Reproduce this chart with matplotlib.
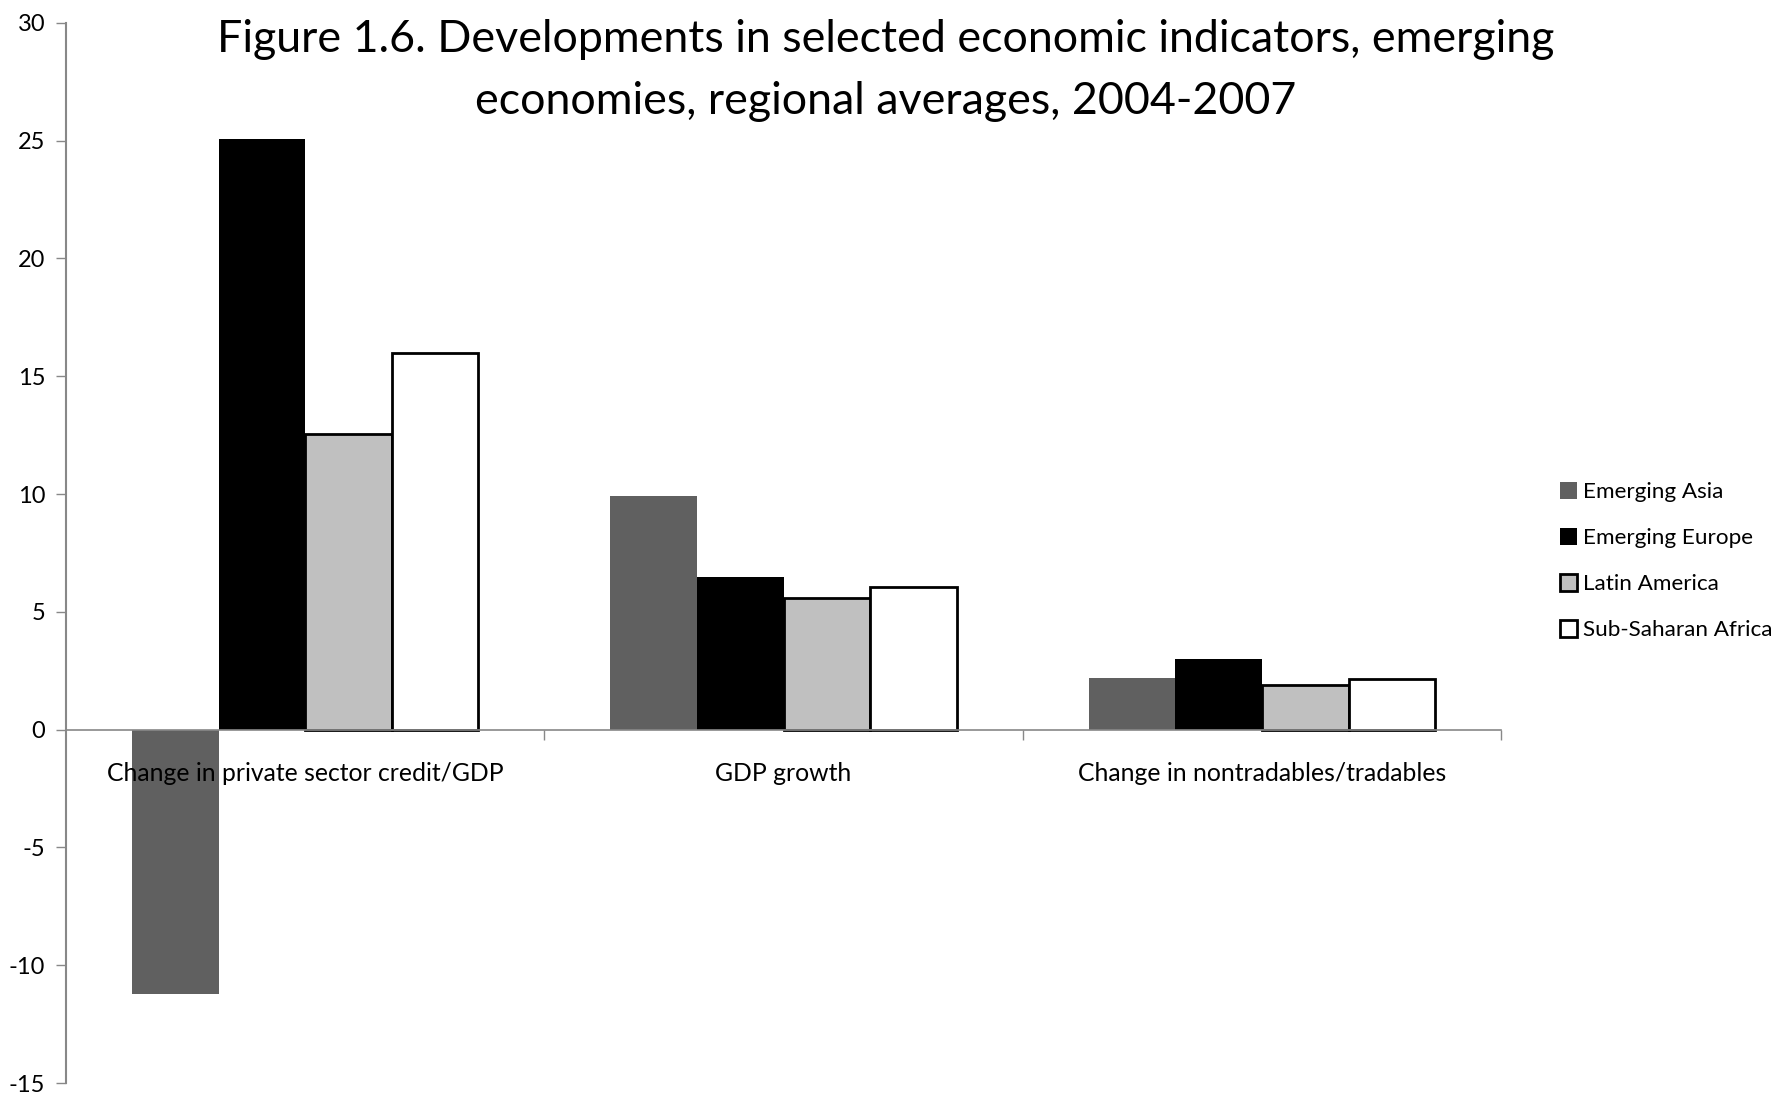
import numpy as np
import matplotlib
matplotlib.use("Agg")
import matplotlib.pyplot as plt
from matplotlib.patches import Patch

plt.rcParams['font.family'] = ['Lato', 'DejaVu Sans']
plt.rcParams['axes.unicode_minus'] = False

categories = ["Change in private sector credit/GDP", "GDP growth",
              "Change in nontradables/tradables"]
series = ["Emerging Asia", "Emerging Europe", "Latin America", "Sub-Saharan Africa"]
emerging_asia = [-11.2, 9.9, 2.2]
emerging_europe = [25.05, 6.5, 3.0]
latin_america = [12.55, 5.6, 1.9]
sub_saharan_africa = [16.0, 6.05, 2.15]

values = [emerging_asia, emerging_europe, latin_america, sub_saharan_africa]
fills = ["#606060", "#000000", "#c0c0c0", "#ffffff"]
edges = ["none", "none", "#000000", "#000000"]

fig = plt.figure(figsize=(17.86, 11.2), dpi=100)
ax = fig.add_axes([0.037, 0.033, 0.8035, 0.9466])

x = np.arange(len(categories))
w = 0.181
for i, (vals, fc, ec) in enumerate(zip(values, fills, edges)):
    ax.bar(x + (i - 1.5) * w, vals, w, color=fc, edgecolor=ec,
           linewidth=2 if ec != "none" else 0, label=series[i], zorder=1)

ax.set_xlim(-0.5, 2.5)
ax.set_ylim(-15, 30)
ax.set_yticks(range(-15, 31, 5))
ax.tick_params(axis='y', direction='out', length=7, width=1, color='#888888',
               labelsize=17, pad=8)

# category axis sits on zero, labels drawn over the bars
ax.spines['top'].set_visible(False)
ax.spines['right'].set_visible(False)
ax.spines['left'].set_color('#888888')
ax.spines['left'].set_linewidth(1.5)
ax.spines['bottom'].set_position(('data', 0))
ax.spines['bottom'].set_color('#888888')
ax.spines['bottom'].set_linewidth(1.2)
ax.set_xticks(x)
ax.set_xticklabels(categories)
ax.tick_params(axis='x', which='major', length=0, labelsize=17.8, pad=23)
ax.set_xticks([0.5, 1.5, 2.5], minor=True)
ax.tick_params(axis='x', which='minor', direction='out', length=7,
               color='#888888', width=1)

fig.text(0.496, 0.937, "Figure 1.6. Developments in selected economic indicators, emerging\n"
         "economies, regional averages, 2004-2007",
         ha='center', va='center', fontsize=32.2, linespacing=1.62)

handles = [Patch(facecolor=fc, edgecolor=('#000000' if ec != 'none' else fc),
                 linewidth=2 if ec != 'none' else 0) for fc, ec in zip(fills, edges)]
fig.legend(handles, series, loc='center left', bbox_to_anchor=(0.862, 0.499),
           frameon=False, fontsize=16.2, handlelength=0.75, handleheight=0.75,
           handletextpad=0.3, labelspacing=1.15)

fig.savefig("out.png", dpi=100)
